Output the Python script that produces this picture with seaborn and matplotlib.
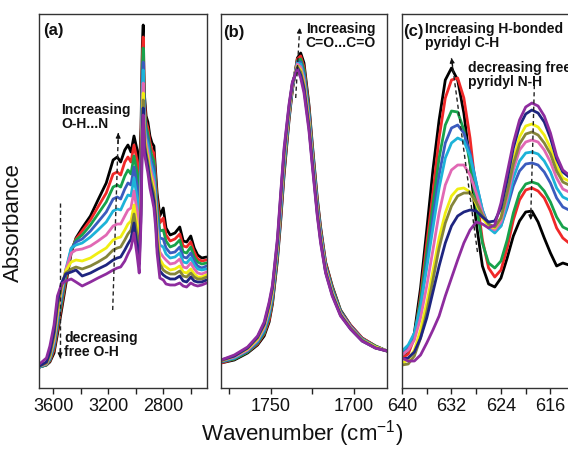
import matplotlib
matplotlib.use("Agg")
import matplotlib.pyplot as plt
import pandas as pd
import seaborn as sns

# ---------------- data (absorbance in arbitrary units) ----------------
SAMPLES = ["S1", "S2", "S3", "S4", "S5", "S6", "S7", "S8", "S9", "S10"]
COLORS = ["#000000", "#F02828", "#17A24B", "#3B5BBE", "#1DB3D8",
          "#E168B4", "#F0EE12", "#85853A", "#1E2580", "#8E2C9E"]

# panel (a): O-H / C-H stretching region
A_WN = [3700, 3650, 3625, 3595, 3570, 3540, 3510, 3470, 3435, 3390, 3330, 3275,
        3215, 3165, 3135, 3110, 3080, 3057, 3035, 3013, 2990, 2975, 2962, 2952,
        2946, 2938, 2925, 2912, 2897, 2882, 2868, 2855, 2845, 2825, 2800, 2780,
        2750, 2715, 2680, 2655, 2630, 2600, 2575, 2550, 2520, 2485]
A_S1 = [21, 23, 26, 35, 54, 78, 103, 135, 150, 160, 172, 188, 205, 228, 231, 226, 238, 243, 236, 252, 238, 215, 260, 345, 363, 295, 272, 266, 252, 245, 242, 215, 195, 172, 180, 160, 153, 155, 161, 147, 146, 152, 140, 133, 130, 131]
A_S2 = [21, 23, 27, 38, 58, 82, 107, 137, 149, 157, 168, 181, 195, 214, 216, 213, 226, 231, 226, 243, 227, 203, 248, 333, 351, 288, 266, 260, 246, 238, 235, 208, 188, 165, 170, 153, 147, 149, 154, 142, 141, 146, 136, 129, 127, 128]
A_S3 = [21, 23, 28, 41, 62, 86, 111, 138, 148, 153, 163, 174, 186, 201, 203, 201, 212, 218, 214, 232, 215, 191, 236, 321, 340, 281, 261, 254, 240, 232, 227, 202, 181, 157, 158, 147, 141, 143, 148, 136, 135, 141, 131, 126, 124, 125]
A_S4 = [21, 24, 29, 43, 66, 91, 115, 139, 146, 149, 157, 166, 176, 189, 191, 189, 199, 205, 203, 221, 202, 179, 224, 309, 326, 273, 255, 248, 233, 225, 220, 195, 173, 150, 149, 140, 135, 136, 141, 131, 130, 135, 127, 122, 120, 122]
A_S5 = [21, 24, 30, 45, 70, 95, 118, 140, 143, 145, 151, 158, 166, 177, 179, 178, 187, 193, 192, 210, 190, 168, 214, 299, 318, 267, 250, 243, 228, 220, 213, 190, 167, 143, 141, 134, 130, 131, 135, 126, 125, 130, 123, 119, 118, 119]
A_S6 = [22, 24, 31, 47, 72, 97, 118, 135, 138, 139, 142, 147, 153, 162, 164, 164, 172, 178, 180, 197, 176, 155, 202, 287, 305, 260, 245, 236, 222, 213, 206, 183, 160, 136, 131, 128, 124, 125, 129, 121, 120, 125, 119, 115, 114, 116]
A_S7 = [22, 25, 32, 50, 76, 100, 117, 126, 128, 127, 130, 135, 140, 148, 150, 151, 158, 164, 167, 183, 162, 142, 190, 277, 295, 253, 239, 230, 216, 207, 199, 177, 153, 129, 123, 121, 118, 119, 122, 116, 115, 119, 114, 111, 111, 113]
A_S8 = [22, 25, 33, 52, 80, 102, 115, 119, 121, 119, 122, 126, 131, 138, 140, 141, 148, 154, 158, 174, 152, 133, 182, 270, 288, 248, 235, 226, 211, 202, 194, 172, 148, 124, 118, 116, 114, 114, 117, 112, 111, 115, 111, 109, 109, 111]
A_S9 = [22, 26, 36, 56, 86, 105, 114, 116, 118, 112, 115, 119, 123, 128, 130, 131, 138, 144, 149, 165, 142, 124, 174, 263, 280, 242, 231, 221, 206, 197, 187, 167, 142, 117, 113, 111, 109, 109, 112, 107, 106, 111, 107, 106, 106, 108]
A_S10 = [24, 30, 42, 63, 92, 104, 107, 109, 106, 102, 106, 110, 114, 118, 120, 121, 127, 134, 140, 155, 132, 115, 166, 257, 273, 235, 225, 215, 200, 190, 180, 160, 135, 110, 108, 104, 103, 103, 105, 102, 101, 105, 103, 102, 103, 105]

# panel (b): C=O stretching region
B_WN = [1780, 1772, 1764, 1758, 1754, 1751, 1749, 1746, 1744, 1742, 1739, 1737, 1734,
        1732, 1730, 1727, 1725, 1722, 1720, 1717, 1713, 1708, 1702, 1695, 1687, 1680]
B_S1 = [25, 28, 35, 43, 52, 66, 84, 128, 168, 213, 268, 298, 330, 335, 325, 283, 244, 190, 161, 126, 102, 78, 63, 50, 42, 37]
B_S2 = [25, 29, 36, 44, 54, 68, 86, 131, 171, 216, 270, 299, 329, 332, 321, 280, 241, 188, 159, 125, 101, 77, 63, 50, 42, 37]
B_S3 = [26, 29, 36, 45, 55, 71, 88, 133, 175, 219, 272, 300, 327, 329, 318, 277, 239, 186, 157, 123, 100, 77, 62, 49, 42, 37]
B_S4 = [26, 30, 37, 46, 57, 73, 91, 136, 178, 223, 274, 301, 326, 326, 314, 274, 236, 184, 155, 122, 98, 76, 62, 49, 41, 37]
B_S5 = [27, 30, 38, 47, 58, 75, 93, 138, 181, 225, 275, 302, 325, 324, 311, 271, 234, 182, 154, 121, 97, 75, 61, 49, 41, 37]
B_S6 = [27, 31, 38, 48, 60, 78, 95, 141, 184, 229, 277, 303, 324, 321, 308, 268, 231, 180, 152, 120, 96, 75, 61, 48, 41, 37]
B_S7 = [27, 32, 39, 49, 62, 80, 97, 143, 188, 232, 279, 304, 322, 318, 304, 265, 229, 177, 150, 118, 95, 74, 60, 48, 41, 37]
B_S8 = [27, 32, 40, 50, 63, 82, 99, 145, 190, 234, 280, 304, 321, 316, 302, 263, 227, 176, 149, 117, 94, 73, 60, 48, 40, 37]
B_S9 = [28, 32, 40, 51, 64, 84, 101, 147, 193, 237, 282, 305, 320, 313, 299, 260, 225, 174, 147, 116, 93, 73, 59, 47, 40, 37]
B_S10 = [28, 33, 41, 52, 66, 86, 103, 150, 196, 240, 284, 306, 319, 310, 295, 257, 222, 172, 145, 115, 92, 72, 59, 47, 40, 37]

# panel (c): pyridyl region
C_WN = [640, 639, 638, 637, 636, 635, 634, 633, 632, 631, 630, 629, 628, 627,
        626, 625, 624, 623, 622, 621, 620, 619, 618, 617, 616, 615, 614, 613]
C_S1 = [31, 36, 55, 100, 158, 218, 268, 308, 320, 308, 275, 225, 165, 122, 104, 101, 110, 130, 152, 167, 176, 177, 166, 150, 135, 122, 125, 123]
C_S2 = [30, 34, 50, 92, 145, 195, 250, 290, 308, 310, 290, 250, 195, 148, 120, 111, 118, 140, 168, 188, 198, 200, 197, 190, 177, 160, 150, 145]
C_S3 = [33, 38, 52, 88, 135, 183, 230, 263, 277, 276, 258, 225, 183, 145, 125, 120, 127, 148, 175, 195, 204, 206, 204, 197, 186, 171, 161, 158]
C_S4 = [34, 40, 52, 82, 125, 170, 213, 245, 260, 263, 255, 235, 205, 178, 162, 157, 162, 180, 202, 217, 224, 225, 223, 216, 205, 190, 181, 178]
C_S5 = [37, 43, 55, 82, 120, 160, 200, 230, 245, 250, 247, 232, 205, 178, 160, 155, 162, 183, 210, 227, 235, 236, 234, 227, 216, 200, 191, 188]
C_S6 = [33, 38, 48, 70, 102, 138, 175, 203, 218, 223, 223, 213, 195, 175, 162, 158, 166, 190, 218, 238, 246, 248, 246, 238, 226, 210, 199, 196]
C_S7 = [25, 28, 38, 58, 85, 117, 150, 175, 192, 199, 200, 196, 184, 170, 162, 160, 170, 197, 228, 251, 262, 264, 261, 253, 240, 222, 210, 207]
C_S8 = [23, 24, 32, 50, 76, 108, 140, 165, 182, 192, 195, 195, 186, 173, 164, 161, 170, 195, 224, 244, 254, 256, 253, 245, 234, 217, 206, 203]
C_S9 = [29, 30, 36, 50, 70, 96, 122, 145, 162, 172, 176, 178, 177, 171, 166, 167, 180, 208, 240, 262, 274, 278, 275, 266, 250, 229, 216, 211]
C_S10 = [30, 27, 27, 33, 45, 58, 72, 92, 110, 128, 145, 158, 166, 164, 160, 163, 185, 215, 245, 268, 281, 285, 282, 272, 255, 232, 218, 213]

A_ABS = [A_S1, A_S2, A_S3, A_S4, A_S5, A_S6, A_S7, A_S8, A_S9, A_S10]
B_ABS = [B_S1, B_S2, B_S3, B_S4, B_S5, B_S6, B_S7, B_S8, B_S9, B_S10]
C_ABS = [C_S1, C_S2, C_S3, C_S4, C_S5, C_S6, C_S7, C_S8, C_S9, C_S10]

A_TICKS, A_MINOR = [3600, 3200, 2800], [3400, 3000, 2600]
B_TICKS, B_MINOR = [1750, 1700], [1775, 1725]
C_TICKS, C_MINOR = [640, 632, 624, 616], [636, 628, 620]

# ---------------- style ----------------
sns.set_theme(style="ticks")
plt.rcParams.update({
    "font.family": ["Liberation Sans", "DejaVu Sans"],
    "mathtext.fontset": "custom",
    "mathtext.rm": "Liberation Sans",
    "mathtext.it": "Liberation Sans:italic",
    "mathtext.bf": "Liberation Sans:bold",
})

W, H = 568, 449
fig = plt.figure(figsize=(W / 100, H / 100), dpi=100)
bottom = 1 - 388 / H
height = 374 / H
axA = fig.add_axes([39.3 / W, bottom, 167.4 / W, height])
axB = fig.add_axes([221 / W, bottom, 166 / W, height])
axC = fig.add_axes([402 / W, bottom, 167 / W, height])


def long_form(wn, table):
    rows = []
    for name, vals in zip(SAMPLES, table):
        for x, y in zip(wn, vals):
            rows.append((x, y, name))
    return pd.DataFrame(rows, columns=["wn", "A", "sample"])


panels = [
    (axA, A_WN, A_ABS, (3702, 2484), A_TICKS, A_MINOR),
    (axB, B_WN, B_ABS, (1780, 1680), B_TICKS, B_MINOR),
    (axC, C_WN, C_ABS, (640, 613), C_TICKS, C_MINOR),
]
for ax, wn, tab, xlim, ticks, minor in panels:
    sns.lineplot(data=long_form(wn, tab), x="wn", y="A", hue="sample",
                 hue_order=SAMPLES, palette=COLORS, linewidth=2.0,
                 estimator=None, legend=False, ax=ax)
    ax.set_xlim(*xlim)
    ax.set_ylim(0, 374)
    ax.set_yticks([])
    ax.set_xticks(ticks)
    ax.set_xticklabels([str(t) for t in ticks])
    ax.set_xticks(minor, minor=True)
    ax.set_xlabel("")
    ax.set_ylabel("")
    ax.tick_params(axis="x", which="both", direction="out", length=4, width=1,
                   color="#222222", labelsize=13, pad=3, labelcolor="#111111")
    for sp in ax.spines.values():
        sp.set_visible(True)
        sp.set_color("#333333")
        sp.set_linewidth(1.0)


def dashed_arrow(ax, start, end):
    ax.plot([start[0], end[0]], [start[1], end[1]], ls=(0, (3, 2.2)),
            lw=1.0, color="#222222")
    pre = (end[0] - 0.06 * (end[0] - start[0]), end[1] - 0.06 * (end[1] - start[1]))
    ax.annotate("", xy=end, xytext=pre,
                arrowprops=dict(arrowstyle="-|>", color="#111111", lw=0.8,
                                mutation_scale=7, shrinkA=0, shrinkB=0))


bold = dict(fontweight="bold", color="#111111")
# panel (a)
axA.text(0.02, 0.975, "(a)", transform=axA.transAxes, ha="left", va="top", fontsize=12, **bold)
axA.text(0.13, 0.762, "Increasing\nO-H...N", transform=axA.transAxes, ha="left",
         va="top", fontsize=10, linespacing=1.0, **bold)
axA.text(0.148, 0.152, "decreasing\nfree O-H", transform=axA.transAxes, ha="left",
         va="top", fontsize=10, linespacing=1.0, **bold)
dashed_arrow(axA, (3168, 78), (3127, 255))
dashed_arrow(axA, (3551, 185), (3551, 30))

# panel (b)
axB.text(0.01, 0.97, "(b)", transform=axB.transAxes, ha="left", va="top", fontsize=12, **bold)
axB.text(0.51, 0.978, "Increasing\nC=O...C=O", transform=axB.transAxes, ha="left",
         va="top", fontsize=10, linespacing=1.0, **bold)
dashed_arrow(axB, (1735, 290), (1732.6, 360))

# panel (c)
axC.text(0.008, 0.972, "(c)", transform=axC.transAxes, ha="left", va="top", fontsize=12, **bold)
axC.text(0.138, 0.978, "Increasing H-bonded\npyridyl C-H", transform=axC.transAxes,
         ha="left", va="top", fontsize=10, linespacing=1.0, **bold)
axC.text(0.397, 0.874, "decreasing free\npyridyl N-H", transform=axC.transAxes,
         ha="left", va="top", fontsize=10, linespacing=1.0, **bold)
dashed_arrow(axC, (627.8, 136), (632.0, 330))
dashed_arrow(axC, (618.6, 303), (619.2, 168))

fig.text(302 / W, 1 - 434 / H, "Wavenumber (cm$^{-1}$)", ha="center", va="center",
         fontsize=16, color="#111111")
fig.text(13 / W, 1 - 223 / H, "Absorbance", rotation=90, ha="center", va="center",
         fontsize=16, color="#111111")

fig.savefig("out.png", dpi=100)
